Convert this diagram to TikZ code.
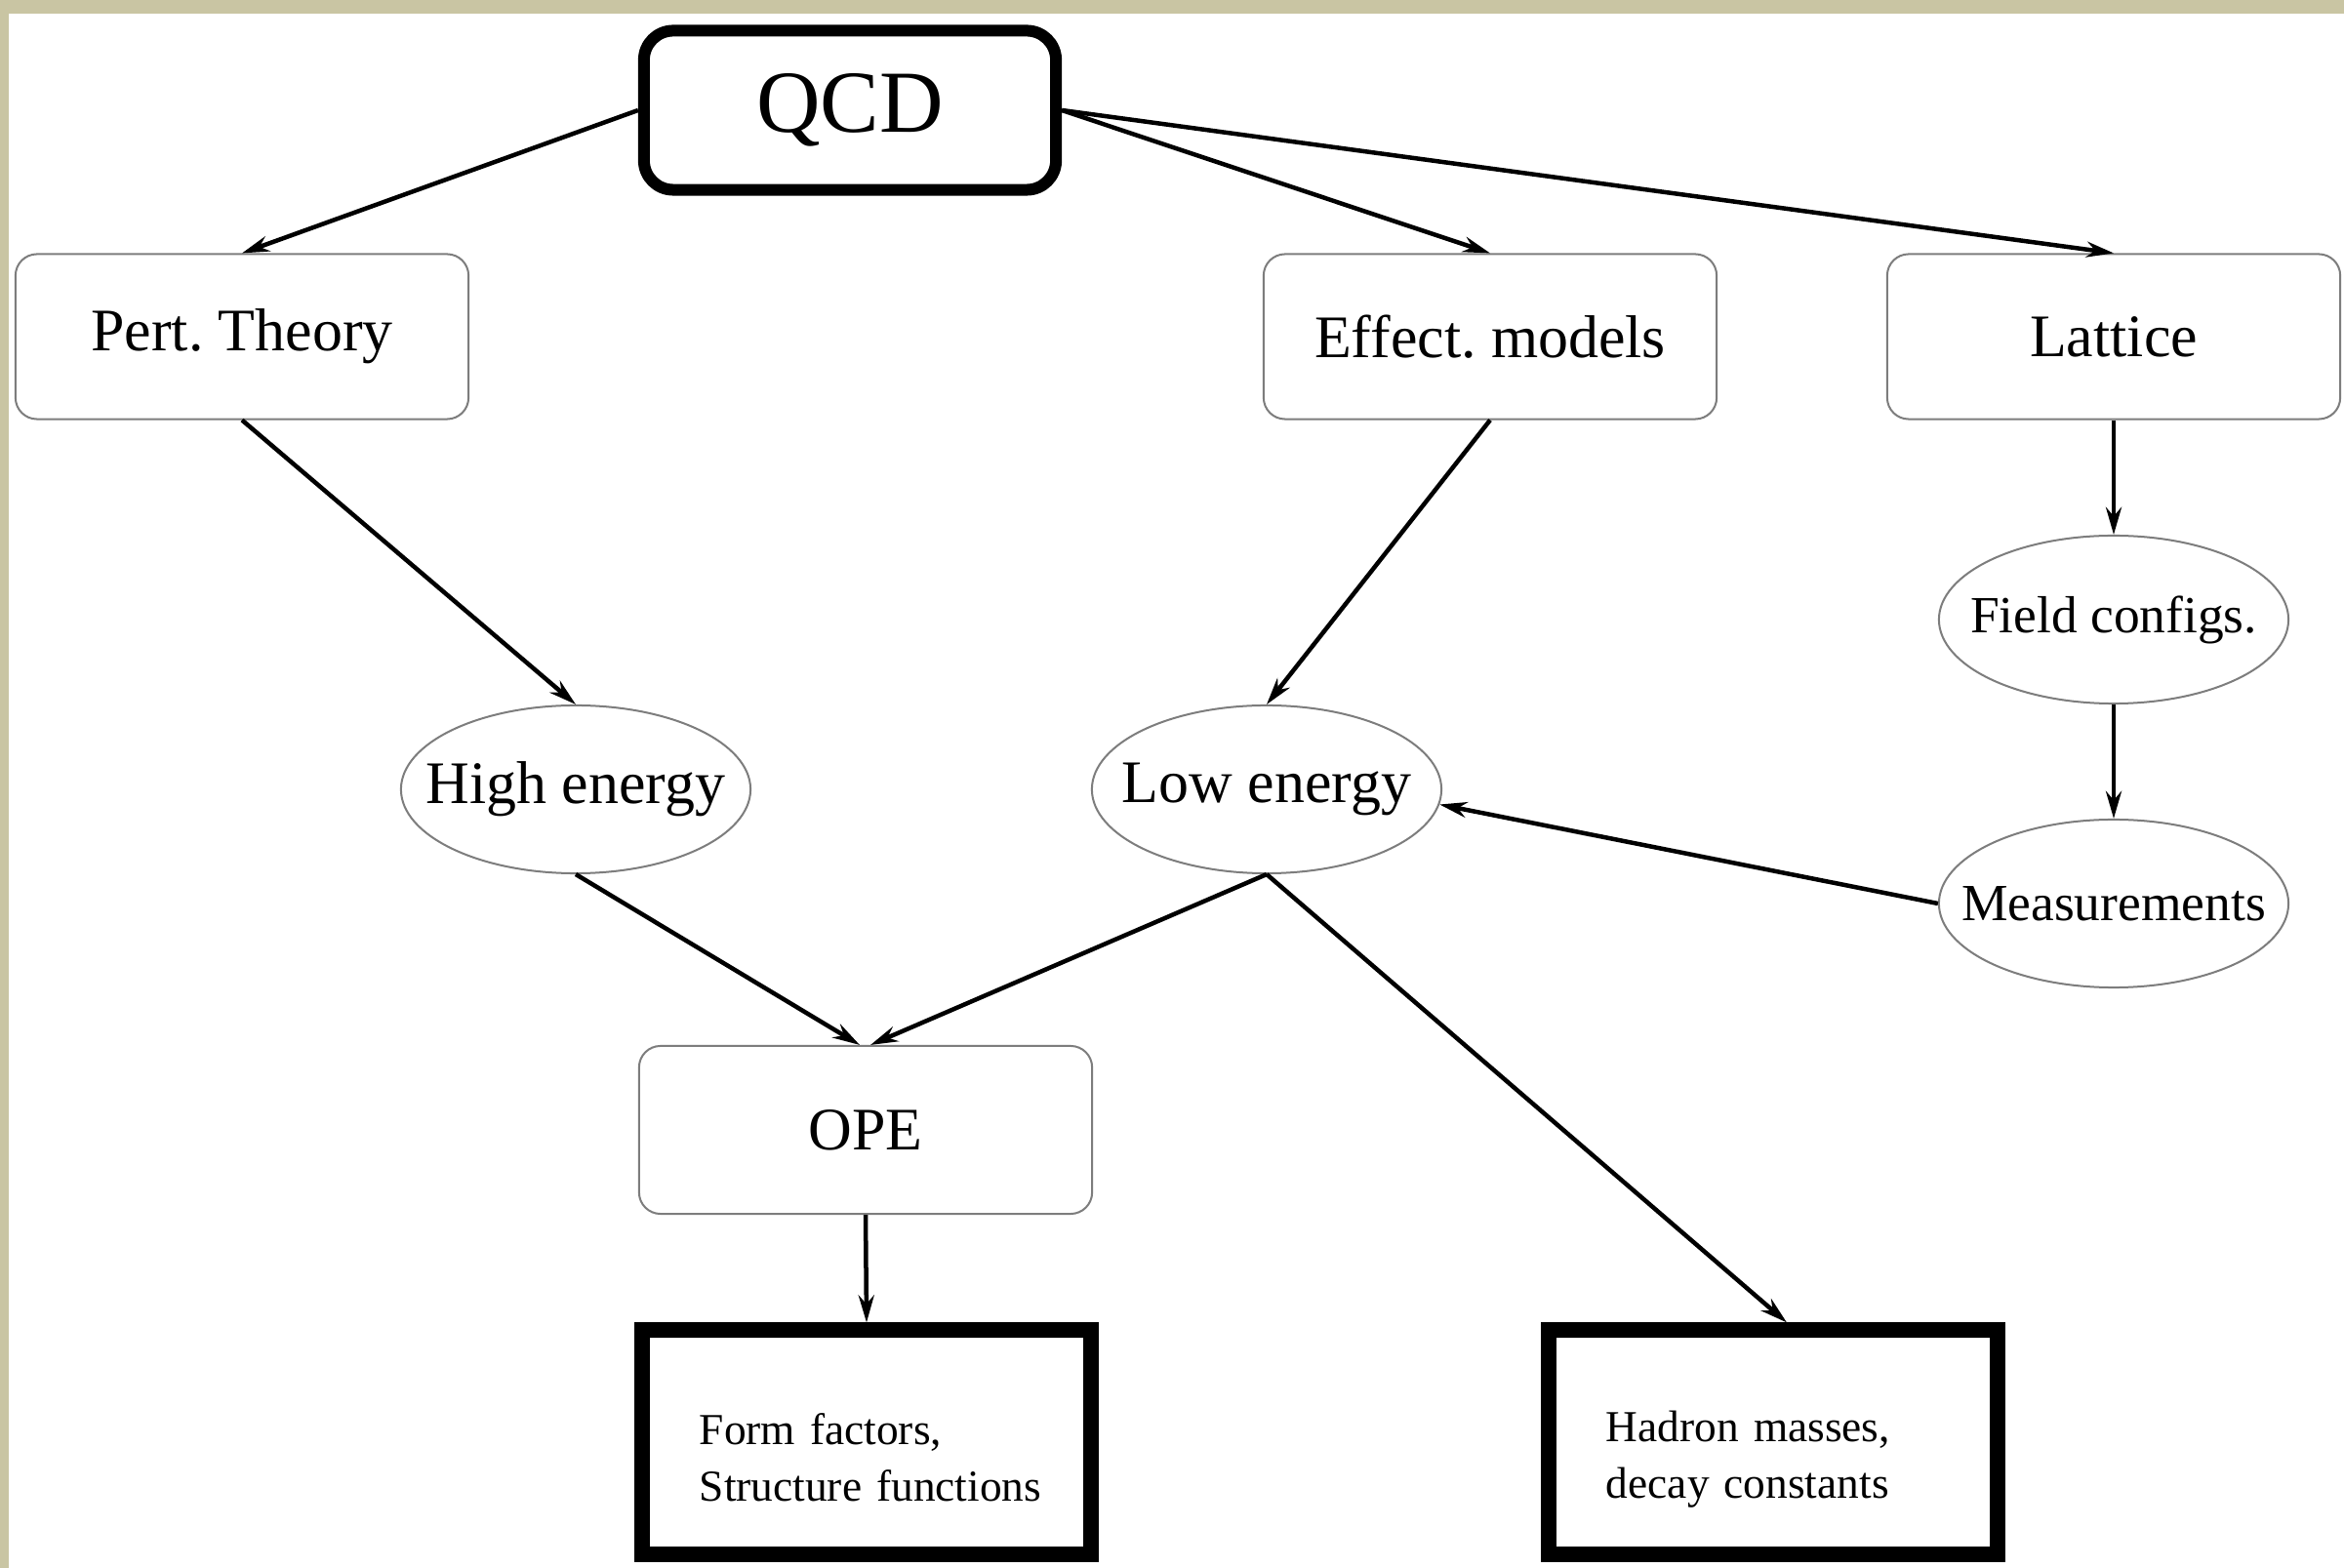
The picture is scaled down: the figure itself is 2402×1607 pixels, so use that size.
\documentclass[tikz,border=0pt]{standalone}
\usepackage{fontspec}
\setmainfont{Liberation Serif}
\usetikzlibrary{shapes.geometric,arrows.meta,calc}
\definecolor{beige}{RGB}{201,197,163}
\definecolor{boxgray}{RGB}{125,125,125}
\begin{document}
\frenchspacing
\begin{tikzpicture}[x=0.01cm,y=-0.01cm,
 rbox/.style={draw=boxgray,line width=0.02cm,rounded corners=0.22cm,minimum width=4.64cm,minimum height=1.69cm,inner sep=0pt,fill=white,font=\fontsize{17.6}{20}\selectfont},
 ell/.style={draw=boxgray,line width=0.02cm,ellipse,minimum width=3.58cm,minimum height=1.72cm,inner xsep=-0.45cm,inner ysep=0pt,fill=white,font=\fontsize{17.6}{20}\selectfont},
 smallell/.style={ell,font=\fontsize{15.2}{18}\selectfont},
 outbox/.style={draw=black,line width=0.16cm,minimum width=4.6cm,minimum height=2.29cm,inner sep=0pt,fill=white},
 boxtext/.style={inner sep=0pt,font=\fontsize{12.9}{16.5}\selectfont,align=left,text width=3.6cm},
 arr/.style={line width=0.045cm,-{Stealth[length=0.28cm,width=0.16cm]}}
]
\fill[beige] (0,0) rectangle (2402,1607);
\fill[white] (9,14) rectangle (2402,1607);

\node[rbox,draw=black,line width=0.12cm,minimum width=4.22cm,minimum height=1.63cm,rounded corners=0.3cm,font=\fontsize{25.8}{30}\selectfont] (qcd) at (871,113) {QCD};
\node[rbox] (pert) at (248,345) {Pert. Theory};
\node[rbox] (eff) at (1527,345) {Effect. models};
\node[rbox] (lat) at (2166,345) {Lattice};
\node[ell] (high) at (590,809) {High energy};
\node[ell] (low) at (1298,809) {Low energy};
\node[smallell] (field) at (2166,635) {Field configs.};
\node[smallell] (meas) at (2166,926) {Measurements};
\node[rbox,minimum height=1.72cm] (ope) at (887,1158) {OPE};
\node[outbox] (form) at (888,1478) {};
\node[boxtext] (formtxt) at ($(form.center)+(9,16)$) {Form factors,\\Structure functions};
\node[outbox] (had) at (1817,1478) {};
\node[boxtext] (hadtxt) at ($(had.center)+(9,18)$) {Hadron masses,\\decay constants};

\draw[arr] (qcd.west) -- (pert.north);
\draw[arr] (qcd.east) -- (eff.north);
\draw[arr] (qcd.east) -- (lat.north);
\draw[arr] (pert.south) -- (high.north);
\draw[arr] (eff.south) -- (low.north);
\draw[arr] (lat.south) -- (field.north);
\draw[arr] (field.south) -- (meas.north);
\draw[arr] (meas.west) -- (low.-5);
\draw[arr] (high.south) -- ($(ope.north)+(-6,0)$);
\draw[arr] (low.south) -- ($(ope.north)+(5,0)$);
\draw[arr] (ope.south) -- (form.north);
\draw[arr] (low.south) -- ($(had.north)+(14,0)$);
\end{tikzpicture}
\end{document}
